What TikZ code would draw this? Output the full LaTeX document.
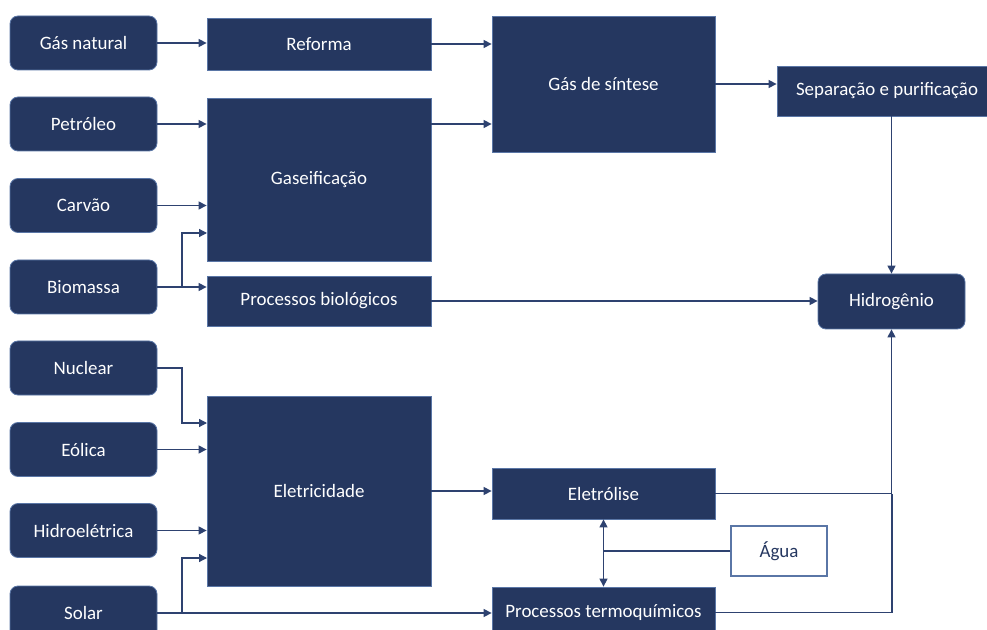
\documentclass[tikz,border=0pt]{standalone}
\usepackage{fontspec}
\setmainfont{Carlito}
\usetikzlibrary{arrows.meta,calc}
\definecolor{navy}{HTML}{253760}
\definecolor{edgeblue}{HTML}{5A76A6}
\definecolor{linec}{HTML}{2E4270}
\begin{document}
\begin{tikzpicture}[x=0.75pt,y=-0.75pt,
  base/.style={fill=navy,draw=edgeblue,line width=0.6pt,text=white,inner sep=0pt,font=\fontsize{14.2}{16}\selectfont},
  src/.style={base,rounded corners=6pt,minimum width=110.25pt,minimum height=40.5pt},
  proc/.style={base,minimum width=168pt},
  conn/.style={draw=linec,line width=0.95pt},
  arr/.style={conn,-{Triangle[length=6pt,width=6pt]}},
  darr/.style={conn,{Triangle[length=6pt,width=6pt]}-{Triangle[length=6pt,width=6pt]}}]
\useasboundingbox[fill=white] (0,0) rectangle (987,630);
\begin{scope}
\clip (0,0) rectangle (987,630);
% sources
\node[src] (gn) at (83.5,43) {Gás natural};
\node[src] (pe) at (83.5,124) {Petróleo};
\node[src] (ca) at (83.5,205.5) {Carvão};
\node[src] (bi) at (83.5,287) {Biomassa};
\node[src] (nu) at (83.5,368) {Nuclear};
\node[src] (eo) at (83.5,449.5) {Eólica};
\node[src] (hi) at (83.5,530.5) {Hidroelétrica};
\node[src] (so) at (83.5,613) {Solar};
% second column
\node[proc,minimum height=39pt] (ref) at (319,44) {Reforma};
\node[proc,minimum height=122.25pt] (gas) at (319,179.5) {Gaseificação};
\node[proc,minimum height=37.5pt] (pb) at (319,301) {Processos biológicos};
\node[proc,minimum height=142.5pt] (el) at (319,491) {Eletricidade};
% third column
\node[base,minimum width=167.25pt,minimum height=102pt] (gs) at (603.5,84) {Gás de síntese};
\node[base,minimum width=167.25pt,minimum height=38.25pt] (ely) at (603.5,493.5) {Eletrólise};
\node[base,minimum width=167.25pt,minimum height=38.25pt] (tq) at (603.5,612.5) {Processos termoquímicos};
\node[draw=edgeblue,fill=white,line width=0.8pt,text=navy,font=\fontsize{14.2}{16}\selectfont,minimum width=72pt,minimum height=37.5pt] (ag) at (779,551) {Água};
% right
\node[base,minimum width=165pt,minimum height=37.5pt] (sep) at (887,91) {Separação e purificação};
\node[base,rounded corners=6pt,minimum width=110.25pt,minimum height=41.25pt] (hy) at (891.5,301.5) {Hidrogênio};
% junction coordinates
\coordinate (bj) at (182,287);
\coordinate (gin) at (207,233);
\coordinate (nj) at (182,368);
\coordinate (ein) at (207,423);
\coordinate (sj) at (182,613);
\coordinate (sin) at (207,558);
\coordinate (hj) at (892,493.5);
% connectors
\draw[arr] (gn.east) -- (gn.east -| ref.west);
\draw[arr] (ref.east) -- (ref.east -| gs.west);
\draw[arr] (gas.east |- pe) -- (gs.west |- pe);
\draw[arr] (pe.east) -- (pe.east -| gas.west);
\draw[arr] (ca.east) -- (ca.east -| gas.west);
\draw[arr] (bi.east) -- (bi.east -| pb.west);
\draw[arr] (bj) |- (gin);
\draw[arr] (pb.east) -- (pb.east -| hy.west);
\draw[arr] (gs.east) -- (gs.east -| sep.west);
\draw[arr] (hy.north |- sep.south) -- (hy.north);
\draw[arr] (nu.east) -- (nj) |- (ein);
\draw[arr] (eo.east) -- (eo.east -| el.west);
\draw[arr] (hi.east) -- (hi.east -| el.west);
\draw[arr] (sj) |- (sin);
\draw[arr] (so.east) -- (so.east -| tq.west);
\draw[arr] (el.east) -- (el.east -| ely.west);
\draw[arr] (ely.east) -| (hy.south);
\draw[conn] (tq.east) -| (hj);
\draw[conn] (ag.west) -- (ag.west -| ely.south);
\draw[darr] (ely.south) -- (tq.north);
\end{scope}
\end{tikzpicture}
\end{document}
